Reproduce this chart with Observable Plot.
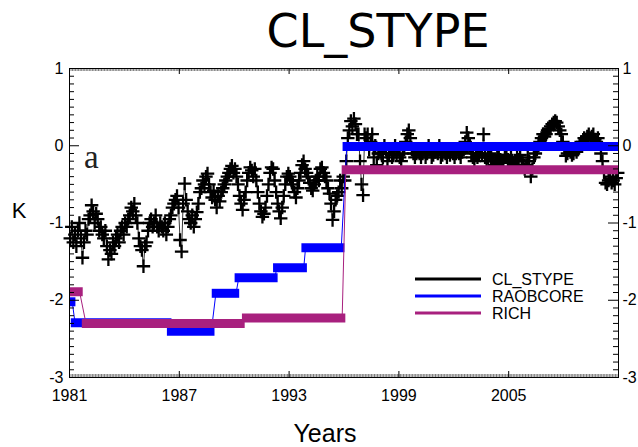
<!DOCTYPE html>
<html><head><meta charset="utf-8">
<script src="https://cdn.jsdelivr.net/npm/d3@7"></script>
<script src="https://cdn.jsdelivr.net/npm/@observablehq/plot@0.6"></script>
<style>body{margin:0;background:#fff} svg{display:block}</style>
</head><body><div id="chart"></div>
<script>
// ---------------- data ----------------
const startYear = 1981;
// CL_STYPE monthly anomalies (K), Jan 1981 .. Dec 2010
const clStype = [
 -1.20,-1.05,-1.25,-1.15,-1.30,-1.10,-1.00,-1.20,-1.45,-1.25,-1.10,-1.15, // 1981
 -0.95,-0.90,-0.77,-0.85,-1.00,-0.88,-0.95,-1.10,-1.05,-1.15,-1.20,-1.10, // 1982
 -1.30,-1.47,-1.35,-1.40,-1.25,-1.30,-1.20,-1.15,-1.25,-1.10,-1.05,-1.15, // 1983
 -1.00,-1.05,-0.95,-0.90,-0.80,-0.85,-0.75,-0.90,-1.00,-1.20,-1.30,-1.35, // 1984
 -1.56,-1.30,-1.25,-1.10,-1.00,-0.95,-1.05,-1.00,-0.90,-1.05,-1.10,-1.00, // 1985
 -1.05,-1.10,-1.00,-1.15,-1.05,-0.95,-0.90,-0.80,-0.75,-0.70,-0.65,-0.80, // 1986
 -1.22,-1.37,-0.75,-0.49,-0.70,-0.85,-0.95,-1.00,-0.90,-1.05,-0.95,-0.86, // 1987
 -0.75,-0.60,-0.55,-0.45,-0.50,-0.40,-0.36,-0.50,-0.60,-0.67,-0.58,-0.70, // 1988
 -0.80,-0.65,-0.72,-0.60,-0.55,-0.50,-0.45,-0.40,-0.35,-0.30,-0.26,-0.35, // 1989
 -0.30,-0.40,-0.50,-0.65,-0.75,-0.83,-0.70,-0.60,-0.45,-0.35,-0.28,-0.32, // 1990
 -0.40,-0.30,-0.45,-0.60,-0.75,-0.85,-0.92,-0.88,-0.80,-0.65,-0.50,-0.35, // 1991
 -0.28,-0.30,-0.45,-0.60,-0.75,-0.85,-0.94,-0.80,-0.65,-0.50,-0.40,-0.36, // 1992
 -0.40,-0.45,-0.50,-0.60,-0.67,-0.55,-0.45,-0.35,-0.25,-0.20,-0.30,-0.35, // 1993
 -0.40,-0.48,-0.55,-0.58,-0.50,-0.45,-0.40,-0.45,-0.30,-0.28,-0.35,-0.40, // 1994
 -0.45,-0.55,-0.62,-0.75,-0.96,-0.85,-0.70,-0.65,-0.60,-0.45,-0.55,-0.40, // 1995
 -0.45,-0.20, 0.10, 0.20, 0.32, 0.25, 0.35, 0.28, 0.15, 0.15,-0.20,-0.50, // 1996
 -0.64, 0.15, 0.10, 0.15,-0.05, 0.05, 0.15,-0.15, 0.00,-0.25,-0.10,-0.05, // 1997
 -0.10,-0.15, 0.00,-0.05,-0.20,-0.10,-0.05,-0.15,-0.10, 0.00,-0.12,-0.05, // 1998
 -0.15,-0.20,-0.10,-0.05, 0.05, 0.15, 0.20, 0.10,-0.05,-0.10,-0.15,-0.10, // 1999
 -0.05,-0.10,-0.15,-0.10,-0.05,-0.15,-0.10, 0.00,-0.05,-0.15,-0.12,-0.08, // 2000
 -0.05,-0.10, 0.00,-0.15,-0.12,-0.05,-0.10,-0.15,-0.08,-0.12,-0.05,-0.10, // 2001
 -0.15,-0.10,-0.05,-0.10,-0.15,-0.08,-0.05, 0.05, 0.17, 0.10, 0.00,-0.10, // 2002
 -0.15,-0.20,-0.10,-0.15,-0.10,-0.05,-0.12, 0.15,-0.15,-0.20,-0.15,-0.10, // 2003
 -0.15,-0.20,-0.25,-0.20,-0.15,-0.12,-0.18,-0.22,-0.20,-0.15,-0.12,-0.18, // 2004
 -0.20,-0.15,-0.22,-0.25,-0.20,-0.15,-0.18,-0.12,-0.20,-0.25,-0.30,-0.25, // 2005
 -0.15,-0.20,-0.40,-0.30,-0.15,-0.10,-0.05, 0.00, 0.05, 0.10, 0.15, 0.12, // 2006
  0.15, 0.20, 0.22, 0.25, 0.28, 0.30, 0.32, 0.30, 0.25, 0.20, 0.15, 0.05, // 2007
 -0.05,-0.13,-0.10,-0.05,-0.08,-0.12,-0.10,-0.05,-0.08,-0.05, 0.00, 0.05, // 2008
  0.05, 0.10, 0.08, 0.12, 0.15, 0.10, 0.12, 0.15, 0.08, 0.05, 0.10, 0.02, // 2009
 -0.10,-0.20,-0.35,-0.48,-0.50,-0.45,-0.40,-0.48,-0.45,-0.50,-0.42,-0.35  // 2010
];
// RAOBCORE step segments: start year, end year, value (K)
const raobStart = [1981.05, 1981.30, 1986.55, 1989.00, 1990.25, 1992.35, 1993.90, 1996.15];
const raobEnd   = [1981.15, 1986.40, 1988.75, 1990.10, 1992.20, 1993.80, 1995.85, 2010.95];
const raobValue = [-2.02, -2.29, -2.40, -1.91, -1.71, -1.58, -1.32, -0.01];
// RICH step segments
const richStart = [1981.10, 1981.90, 1990.65, 1996.10];
const richEnd   = [1981.55, 1990.40, 1995.90, 2010.95];
const richValue = [-1.89, -2.30, -2.23, -0.31];

const yTicks = [-3, -2, -1, 0, 1];
const xTicks = [1981, 1987, 1993, 1999, 2005];
const seriesNames = ["CL_STYPE", "RAOBCORE", "RICH"];
const seriesColors = ["#000000", "#0000ff", "#a8207e"];

// ---------------- layout ----------------
const W = 638, H = 447, mL = 69, mR = 20, mT = 68, mB = 70;
const xDom = [1981, 2011], yDom = [-3, 1];
const xpp = (xDom[1] - xDom[0]) / (W - mL - mR);
const ypp = (yDom[1] - yDom[0]) / (H - mT - mB);

const cl = clStype.map((v, i) => ({x: startYear + (i + 0.5) / 12, y: v}));
const mkSegs = (s, e, v) => s.map((d, i) => ({x1: d, x2: e[i], y: v[i]}));
const raob = mkSegs(raobStart, raobEnd, raobValue);
const rich = mkSegs(richStart, richEnd, richValue);
const segPts = segs => segs.flatMap(d => [{x: d.x1, y: d.y}, {x: d.x2, y: d.y}]);

const yMinor = d3.range(-30, 11).map(d => d / 10).filter(d => !yTicks.includes(d));
const xMinor = d3.range(0, 361).map(i => startYear + i / 12);
const ext = 0.2; // half-width of plus markers at band ends, in years
const fmtY = d => (d < 0 ? "-" : "") + Math.abs(d);

const ink = seriesColors[0], blue = seriesColors[1], mag = seriesColors[2];

const plot = Plot.plot({
  width: W, height: H,
  marginLeft: mL, marginRight: mR, marginTop: mT, marginBottom: mB,
  x: {domain: xDom, label: null},
  y: {domain: yDom, label: null},
  style: {fontFamily: "'Liberation Sans', Arial, Helvetica, sans-serif", fontSize: "16px", color: "black", background: "white"},
  marks: [
    // CL_STYPE
    Plot.line(cl, {x: "x", y: "y", stroke: ink, strokeWidth: 0.8}),
    Plot.dot(cl, {x: "x", y: "y", symbol: "plus", stroke: ink, strokeWidth: 2.3, r: 4.4}),
    // RAOBCORE
    Plot.line(segPts(raob), {x: "x", y: "y", stroke: blue, strokeWidth: 1}),
    Plot.ruleY(raob, {y: "y", x1: d => d.x1 - ext, x2: d => d.x2 + ext, stroke: blue, strokeWidth: 9, clip: true}),
    // RICH
    Plot.line(segPts(rich), {x: "x", y: "y", stroke: mag, strokeWidth: 1}),
    Plot.ruleY(rich, {y: "y", x1: d => d.x1 - ext, x2: d => d.x2 + ext, stroke: mag, strokeWidth: 9, clip: true}),
    // y ticks, inward, both sides
    Plot.ruleY(yMinor, {y: d => d, x1: xDom[0], x2: xDom[0] + 5 * xpp, stroke: "black", strokeWidth: 1}),
    Plot.ruleY(yTicks, {y: d => d, x1: xDom[0], x2: xDom[0] + 10 * xpp, stroke: "black", strokeWidth: 1}),
    Plot.ruleY(yMinor, {y: d => d, x1: xDom[1] - 5 * xpp, x2: xDom[1], stroke: "black", strokeWidth: 1}),
    Plot.ruleY(yTicks, {y: d => d, x1: xDom[1] - 10 * xpp, x2: xDom[1], stroke: "black", strokeWidth: 1}),
    // x ticks, inward, top and bottom
    Plot.ruleX(xMinor, {x: d => d, y1: yDom[0], y2: yDom[0] + 3 * ypp, stroke: "#444", strokeWidth: 0.7}),
    Plot.ruleX(xMinor, {x: d => d, y1: yDom[1] - 3 * ypp, y2: yDom[1], stroke: "#444", strokeWidth: 0.7}),
    Plot.ruleX(xTicks, {x: d => d, y1: yDom[0], y2: yDom[0] + 6 * ypp, stroke: "black", strokeWidth: 1}),
    Plot.ruleX(xTicks, {x: d => d, y1: yDom[1] - 6 * ypp, y2: yDom[1], stroke: "black", strokeWidth: 1}),
    Plot.frame({stroke: "black", strokeWidth: 1}),
    Plot.axisY(yTicks, {anchor: "left", tickSize: 0, tickPadding: 6, fontSize: 16, tickFormat: fmtY}),
    Plot.axisY(yTicks, {anchor: "right", tickSize: 0, tickPadding: 4, fontSize: 16, tickFormat: fmtY}),
    Plot.axisX(xTicks, {anchor: "bottom", tickSize: 0, tickPadding: 12, fontSize: 16, tickFormat: d => String(d)})
  ]
});

const svg = d3.select(plot);
const sans = "'Liberation Sans', Arial, sans-serif";
// Title
svg.append("text").attr("x", 378).attr("y", 47).attr("text-anchor", "middle")
  .style("font-family", "'DejaVu Sans', sans-serif").style("font-size", "46px").attr("fill", "black").text("CL_STYPE");
// Axis titles
svg.append("text").attr("x", 19).attr("y", 218).attr("text-anchor", "middle")
  .style("font-family", sans).style("font-size", "22px").attr("fill", "black").text("K");
svg.append("text").attr("x", 325).attr("y", 442).attr("text-anchor", "middle")
  .style("font-family", sans).style("font-size", "25px").attr("fill", "black").text("Years");
// panel letter
svg.append("text").attr("x", 84).attr("y", 168).attr("text-anchor", "start")
  .style("font-family", "'Liberation Serif', 'DejaVu Serif', serif").style("font-size", "33px").attr("fill", "#222").text("a");
// Legend
const lg = svg.append("g");
seriesNames.forEach((name, i) => {
  const y = 279 + i * 17;
  lg.append("line").attr("x1", 415).attr("x2", 481).attr("y1", y).attr("y2", y)
    .attr("stroke", seriesColors[i]).attr("stroke-width", 3);
  lg.append("text").attr("x", 492).attr("y", y + 6).attr("text-anchor", "start")
    .style("font-family", sans).style("font-size", "16px").attr("fill", "black").text(name);
});

document.getElementById("chart").appendChild(plot);
</script>
</body></html>
